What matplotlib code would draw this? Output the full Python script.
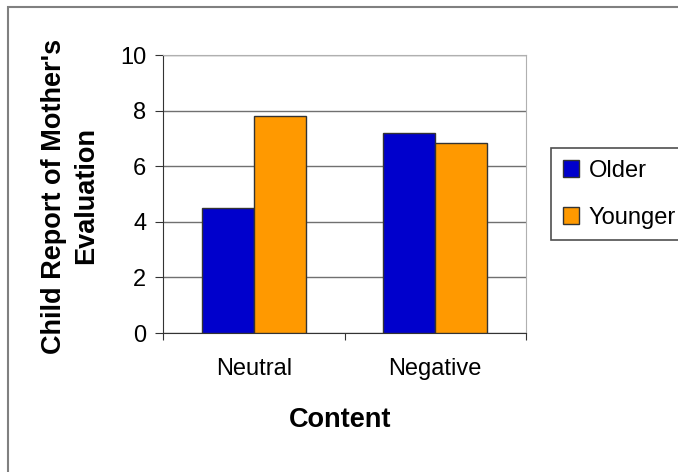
import matplotlib
matplotlib.use("Agg")
import matplotlib.pyplot as plt
import numpy as np
from matplotlib.patches import Rectangle, Patch

categories = ["Neutral", "Negative"]
series_names = ["Older", "Younger"]
older = [4.48, 7.18]
younger = [7.82, 6.83]
yticks = [0, 2, 4, 6, 8, 10]

plt.rcParams['font.family'] = ['Liberation Sans', 'DejaVu Sans']

fig = plt.figure(figsize=(6.78, 4.72), dpi=100)
fig.patch.set_facecolor('white')

# outer frame
fig.patches.append(Rectangle((8/678, -0.5), 2.0, 1.5 - 7/472, transform=fig.transFigure,
                             fill=False, edgecolor='#808080', linewidth=1.5, zorder=0))

ax = fig.add_axes([163/678, 1-333/472, (526-163)/678, (333-55)/472])
x = np.arange(len(categories))
w = 0.287
ax.bar(x - w/2, older, w, color='#0000CC', edgecolor='#333333', linewidth=1, label=series_names[0], zorder=3)
ax.bar(x + w/2, younger, w, color='#FF9900', edgecolor='#333333', linewidth=1, label=series_names[1], zorder=3)

ax.set_xlim(-0.5, 1.5)
ax.set_ylim(0, 10)
ax.set_yticks(yticks)
ax.set_yticklabels([str(t) for t in yticks])
ax.yaxis.grid(True, color='#707070', linewidth=1, zorder=0)
ax.set_axisbelow(True)

ax.set_xticks([-0.5, 0.5, 1.5])
ax.set_xticklabels([])
ax.set_xticks(x, minor=True)
ax.set_xticklabels(categories, minor=True)
ax.tick_params(axis='x', which='major', direction='out', length=5, color='#333333')
ax.tick_params(axis='x', which='minor', length=0, pad=18, labelsize=17)
ax.tick_params(axis='y', direction='out', length=6, pad=6, labelsize=17, color='#333333')

for s in ['top', 'right']:
    ax.spines[s].set_color('#b0b0b0')
for s in ['left', 'bottom']:
    ax.spines[s].set_color('#333333')

fig.text(70/678, 1-196/472, "Child Report of Mother's\nEvaluation", rotation=90,
         ha='center', va='center', multialignment='center', fontsize=19.5, fontweight='bold',
         linespacing=1.3)
fig.text(340/678, 1-420/472, "Content", ha='center', va='center', fontsize=19.5, fontweight='bold')

handles = [Patch(facecolor='#0000CC', edgecolor='#333333'), Patch(facecolor='#FF9900', edgecolor='#333333')]
leg = fig.legend(handles, series_names, loc='upper left', bbox_to_anchor=(551/678, 1-148/472),
                 bbox_transform=fig.transFigure, fontsize=17, frameon=True, fancybox=False,
                 handlelength=0.7, handleheight=0.7, handletextpad=0.4, labelspacing=1.05,
                 borderpad=0.5, borderaxespad=0)
leg.get_frame().set_edgecolor('#222222')
leg.get_frame().set_linewidth(1.2)

fig.savefig('out.png', dpi=100)
